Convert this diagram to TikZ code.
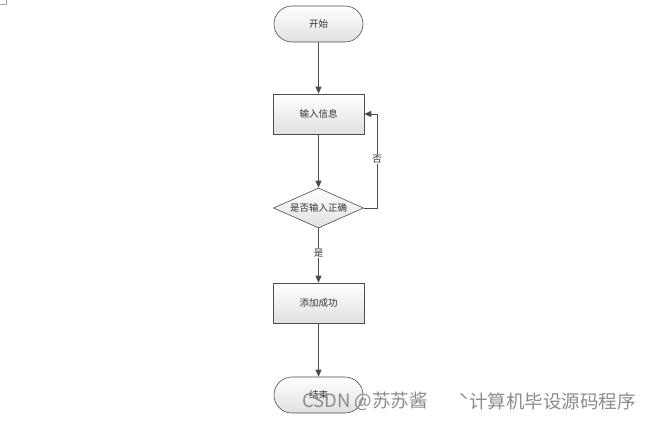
\documentclass[tikz,border=0pt]{standalone}
\usepackage{fontspec}
\newfontfamily\cjk{Noto Sans CJK SC}
\usetikzlibrary{shapes.geometric,shapes.misc,arrows.meta}
\begin{document}
\begin{tikzpicture}[x=1pt,y=-1pt,
  base/.style={draw=black!70,line width=0.6pt,top color=white,bottom color=black!12,font=\cjk\fontsize{9.5}{11}\selectfont,text=black!80,inner sep=0pt},
  term/.style={base,rounded rectangle,minimum width=89pt,minimum height=36pt},
  procbox/.style={base,rectangle,minimum width=91pt,minimum height=40pt},
  decide/.style={base,diamond,aspect=2.25,minimum width=90pt,minimum height=40pt},
  conn/.style={draw=black!70,line width=0.7pt,-{Triangle[length=7pt,width=6pt]}},
  lbl/.style={fill=white,font=\cjk\fontsize{9.5}{11}\selectfont,text=black!80,inner sep=1pt},
  wm/.style={font=\cjk\fontsize{18.5}{21}\selectfont,text=black!45,anchor=west,inner sep=0pt}]
\useasboundingbox (0,0) rectangle (660,420);
\fill[white] (0,0) rectangle (660,420);
\draw[black!35,line width=0.6pt] (0,4) -- (6,4) -- (6,0);
\node[term] (start) at (318.5,24) {开始};
\node[procbox] (input) at (318.5,114) {输入信息};
\node[decide] (check) at (318.5,208) {是否输入正确};
\node[procbox] (add) at (318.5,303) {添加成功};
\node[term] (stop) at (318.5,395) {结束};
\coordinate (loop) at (377,208);
\draw[conn] (start) -- (input);
\draw[conn] (input) -- (check);
\draw[conn] (check.east) -- (loop) |- (input.east) node[lbl,pos=0.26] {否};
\draw[conn] (check) -- node[lbl,pos=0.45] {是} (add);
\draw[conn] (add) -- (stop);
\node[wm] (wm1) at (302,401) {CSDN @苏苏酱};
\node[wm] (wm2) at (458,401) {ˋ计算机毕设源码程序};
\end{tikzpicture}
\end{document}
